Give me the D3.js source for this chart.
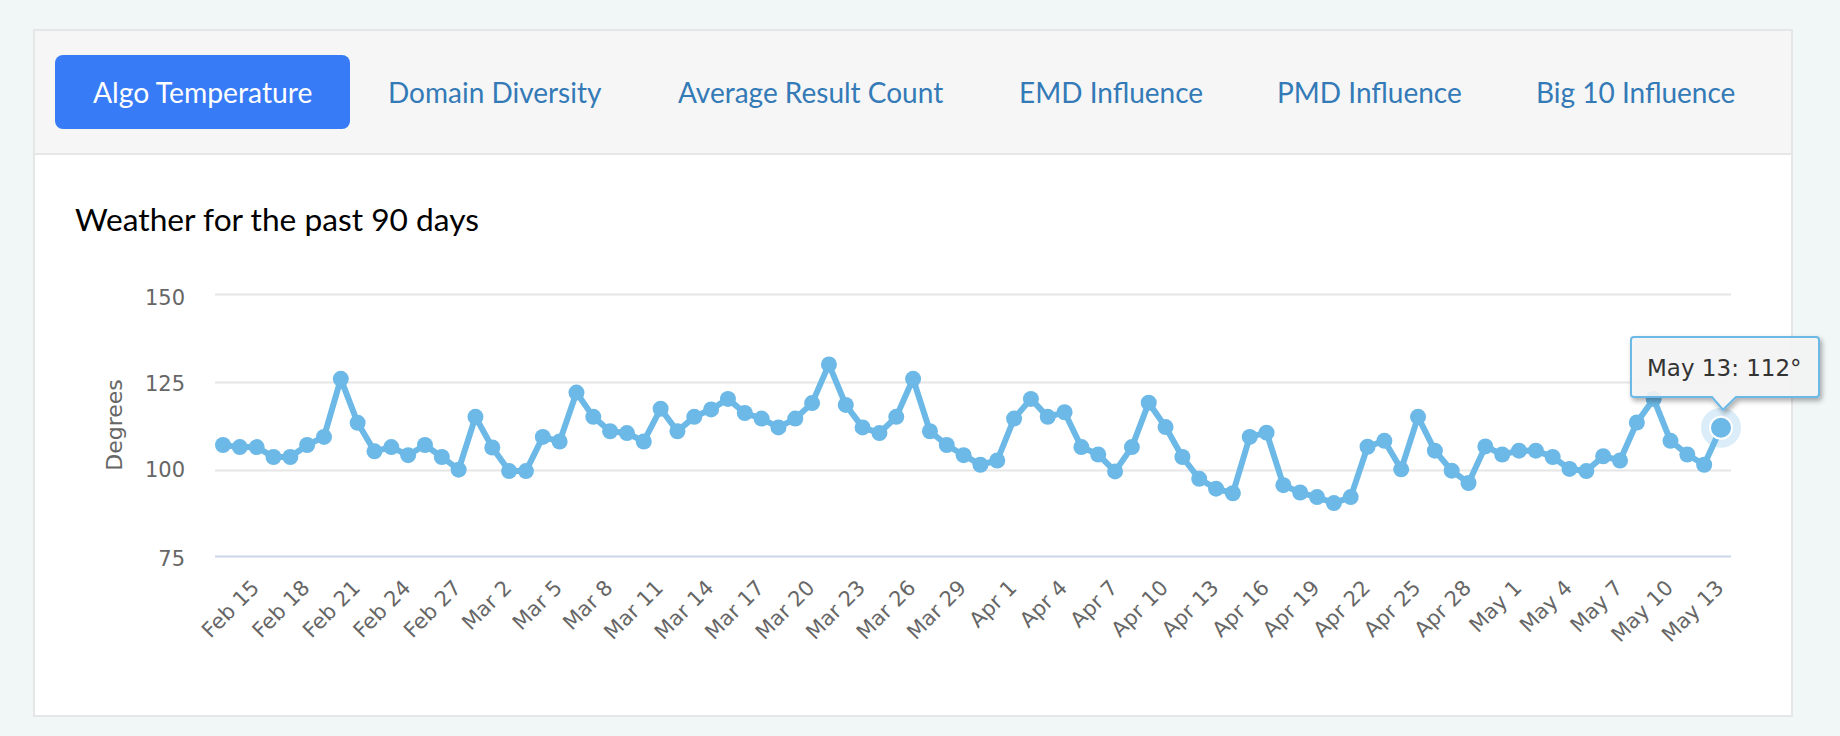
<!DOCTYPE html>
<html>
<head>
<meta charset="utf-8">
<script src="https://cdnjs.cloudflare.com/ajax/libs/d3/7.8.5/d3.min.js"></script>
<style>
  html, body { margin: 0; padding: 0; background: #f1f6f6; }
  svg { display: block; }
  .tab { font-family: Lato, sans-serif; font-size: 28px; }
  .axis text { font-family: "DejaVu Sans", sans-serif; font-size: 21px; fill: #666; }
  .axis path { display: none; }
</style>
</head>
<body>
<svg id="chart" width="1840" height="736"></svg>
<script>
const tabs = ["Algo Temperature", "Domain Diversity", "Average Result Count", "EMD Influence", "PMD Influence", "Big 10 Influence"];
const tickLabels = ["Feb 15", "Feb 18", "Feb 21", "Feb 24", "Feb 27", "Mar 2", "Mar 5", "Mar 8", "Mar 11", "Mar 14",
  "Mar 17", "Mar 20", "Mar 23", "Mar 26", "Mar 29", "Apr 1", "Apr 4", "Apr 7", "Apr 10", "Apr 13",
  "Apr 16", "Apr 19", "Apr 22", "Apr 25", "Apr 28", "May 1", "May 4", "May 7", "May 10", "May 13"];
const yTicks = [75, 100, 125, 150];
const degrees = [107.1, 106.5, 106.5, 103.7, 103.7, 107.1, 109.4, 125.9, 113.4, 105.3,
  106.5, 104.2, 107.1, 103.7, 100.1, 115.1, 106.4, 99.7, 99.7, 109.4,
  108.1, 122, 115.1, 111, 110.5, 108.1, 117.4, 111, 115.1, 117.2,
  120.2, 116.2, 114.6, 112.1, 114.6, 119, 130, 118.5, 112.1, 110.5,
  115.1, 125.9, 111, 107.1, 104.2, 101.5, 102.7, 114.6, 120.2, 115.1,
  116.4, 106.5, 104.4, 99.6, 106.5, 119.1, 112.2, 103.7, 97.5, 94.7,
  93.4, 109.4, 110.6, 95.7, 93.6, 92.3, 90.6, 92.3, 106.6, 108.3,
  100.2, 115.1, 105.5, 99.8, 96.3, 106.7, 104.4, 105.5, 105.5, 103.7,
  100.3, 99.7, 103.9, 102.7, 113.5, 120.2, 108.3, 104.4, 101.5, 112];

const lineColor = "#6cb8e6";
const svg = d3.select("#chart");

// card and tab header
svg.append("rect").attr("x", 34).attr("y", 30).attr("width", 1758).attr("height", 686)
  .attr("fill", "#fff").attr("stroke", "#e6e6e6").attr("stroke-width", 2);
svg.append("rect").attr("x", 35).attr("y", 31).attr("width", 1756).attr("height", 122).attr("fill", "#f6f6f6");
svg.append("line").attr("x1", 34).attr("x2", 1792).attr("y1", 154).attr("y2", 154)
  .attr("stroke", "#e6e6e6").attr("stroke-width", 2);

svg.append("rect").attr("x", 55).attr("y", 55).attr("width", 295).attr("height", 74).attr("rx", 8)
  .attr("fill", "#377bf7");

const tabX = [93, 388, 678, 1019, 1277, 1536];
svg.selectAll("text.tab").data(tabs).enter().append("text")
  .attr("class", "tab")
  .attr("x", (d, i) => tabX[i])
  .attr("y", 103)
  .attr("fill", (d, i) => i == 0 ? "#fff" : "#337ab7")
  .attr("font-size", (d, i) => i == 0 ? 28.3 : null)
  .style("font-size", (d, i) => i == 0 ? "28.3px" : null)
  .text(d => d);

svg.append("text").attr("x", 75).attr("y", 231)
  .attr("font-family", "Lato, sans-serif").attr("font-size", 31.7).attr("fill", "#000")
  .text("Weather for the past 90 days");

// scales
const x = d3.scalePoint().domain(d3.range(degrees.length)).range([223, 1721]);
const y = d3.scaleLinear().domain([75, 150]).range([558, 294]);

// grid and y axis
const labelShift = {75: -6, 100: -7, 125: -5, 150: -3};
const yAxis = svg.append("g").attr("class", "axis")
  .attr("transform", "translate(215,0)")
  .call(d3.axisLeft(y).tickValues(yTicks).tickSize(-1516).tickPadding(30));
yAxis.selectAll("line")
  .attr("stroke", d => d == 75 ? "#ccd6eb" : "#e6e6e6")
  .attr("stroke-width", 2)
  .attr("transform", d => d == 75 ? "translate(0,-2)" : null);
yAxis.selectAll("text").attr("dy", "0.65em").attr("transform", d => "translate(0," + labelShift[d] + ")");

svg.append("text")
  .attr("transform", "translate(122,425) rotate(-90)")
  .attr("text-anchor", "middle")
  .attr("font-family", "DejaVu Sans, sans-serif").attr("font-size", 22).attr("fill", "#666")
  .text("Degrees");

// x axis, one label every third point
const xAxis = svg.append("g").attr("class", "axis")
  .attr("transform", "translate(0,557)")
  .call(d3.axisBottom(x)
    .tickValues(tickLabels.map((d, i) => i * 3))
    .tickFormat(d => tickLabels[d / 3])
    .tickSize(0));
xAxis.selectAll("text")
  .attr("text-anchor", "end")
  .attr("dy", 0)
  .attr("y", 0)
  .attr("transform", "translate(37,32) rotate(-45)");

// line and markers
const line = d3.line().x((d, i) => x(i)).y(d => y(d));
svg.append("path").datum(degrees)
  .attr("d", line)
  .attr("fill", "none")
  .attr("stroke", lineColor)
  .attr("stroke-width", 6)
  .attr("stroke-linejoin", "round");

svg.selectAll("circle.pt").data(degrees).enter().append("circle")
  .attr("class", "pt")
  .attr("cx", (d, i) => x(i))
  .attr("cy", d => y(d))
  .attr("r", 8)
  .attr("fill", lineColor);

// hovered point
const last = degrees.length - 1;
svg.append("circle").attr("cx", x(last)).attr("cy", y(degrees[last])).attr("r", 20)
  .attr("fill", lineColor).attr("opacity", 0.25);
svg.append("circle").attr("cx", x(last)).attr("cy", y(degrees[last])).attr("r", 11)
  .attr("fill", lineColor).attr("stroke", "#fff").attr("stroke-width", 2);

// tooltip
const defs = svg.append("defs");
const blur = defs.append("filter").attr("id", "tipShadow").attr("x", "-10%").attr("y", "-20%").attr("width", "125%").attr("height", "150%");
blur.append("feDropShadow").attr("dx", 2).attr("dy", 3).attr("stdDeviation", 2.5)
  .attr("flood-color", "#000").attr("flood-opacity", 0.35);

const tipX = x(last) + 2, tipY = y(degrees[last]) - 18;
const tipPath = d3.path();
tipPath.moveTo(1634, 337);
tipPath.lineTo(1816, 337);
tipPath.quadraticCurveTo(1819, 337, 1819, 340);
tipPath.lineTo(1819, 394);
tipPath.quadraticCurveTo(1819, 397, 1816, 397);
tipPath.lineTo(tipX + 13, 397);
tipPath.lineTo(tipX, tipY);
tipPath.lineTo(tipX - 11, 397);
tipPath.lineTo(1634, 397);
tipPath.quadraticCurveTo(1631, 397, 1631, 394);
tipPath.lineTo(1631, 340);
tipPath.quadraticCurveTo(1631, 337, 1634, 337);
tipPath.closePath();
svg.append("path").attr("d", tipPath.toString())
  .attr("fill", "#f7f7f7").attr("fill-opacity", 0.88)
  .attr("stroke", lineColor).attr("stroke-width", 2)
  .attr("filter", "url(#tipShadow)");
svg.append("text").attr("x", 1647).attr("y", 376)
  .attr("font-family", "DejaVu Sans, sans-serif").attr("font-size", 23).attr("fill", "#333")
  .text(tickLabels[tickLabels.length - 1] + ": " + Math.round(degrees[last]) + "°");
</script>
</body>
</html>
